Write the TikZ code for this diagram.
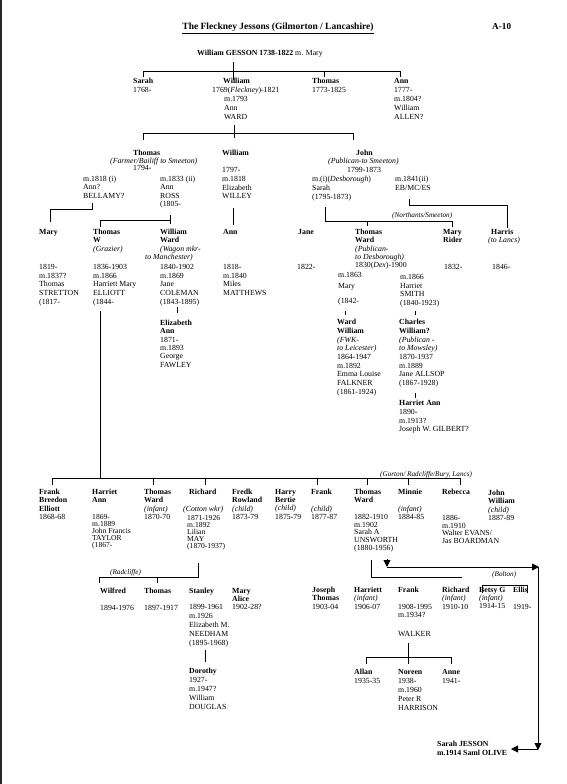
\documentclass[tikz,border=0pt]{standalone}
\usepackage{fontspec}
\setmainfont{Liberation Serif}
\usetikzlibrary{arrows.meta}

\begin{document}
\begin{tikzpicture}[x=1pt, y=-1pt,
  every node/.style={anchor=north west, inner sep=0pt, align=left, font=\fontsize{7.8}{8.7}\selectfont},
  mid/.style={font=\fontsize{7.8}{8.3}\selectfont},
  tight/.style={font=\fontsize{7.6}{7.1}\selectfont},
  loose/.style={font=\fontsize{7.8}{9}\selectfont},
  place/.style={anchor=base west, font=\fontsize{7.2}{8}\selectfont\itshape},
  wire/.style={line width=0.8pt},
  tip/.style={-{Triangle[length=7pt, width=7pt]}}]
  \useasboundingbox (0,0) rectangle (567,784);
  \fill[black!85] (0,0) rectangle (1.6,784);

  % heading
  \node[anchor=base, font=\fontsize{9.5}{10}\selectfont\bfseries] (title) at (278,30) {\underline{The Fleckney Jessons (Gilmorton / Lancashire)}};
  \node[anchor=base west, font=\fontsize{9.2}{10}\selectfont\bfseries] (sheet) at (492,30) {A-10};
  \node[anchor=base west] (gesson) at (197,56) {\textbf{William GESSON 1738-1822} m. Mary};

  % children of William GESSON
  \node[loose] (sarahA) at (133,78) {\textbf{Sarah}\\1768-};
  \node (williamA) at (223,78) {\textbf{William}};
  \node (williamAd) at (212,87) {1769(\textit{Fleckney})-1821};
  \node[loose] (williamAm) at (224,96) {m.1793\\Ann\\WARD};
  \node[loose] (thomasA) at (312,78) {\textbf{Thomas}\\1773-1825};
  \node[loose] (annA) at (394,78) {\textbf{Ann}\\1777-\\m.1804?\\William\\ALLEN?};
  \coordinate (gTop) at (233,62);
  \coordinate (gS) at (143,71);
  \coordinate (gW) at (233,71);
  \coordinate (gT) at (324,71);
  \coordinate (gA) at (400,71);
  \draw[wire] ([yshift=-6pt]gS) -- (gS) -- (gA) -- ([yshift=-6pt]gA);
  \draw[wire] (gTop) -- ([yshift=-9pt]gW);
  \draw[wire] (gT) -- ([yshift=-6pt]gT);

  % children of William and Ann WARD
  \node (thomasB) at (133,150) {\textbf{Thomas}};
  \node (thomasBo) at (110,158) {\textit{(Farmer/Bailiff to Smeeton)}};
  \node (thomasBd) at (133,165) {1794-};
  \node[mid] (bellamy) at (83,176) {m.1818 (i)\\Ann?\\BELLAMY?};
  \node[mid] (ross) at (160,176) {m.1833 (ii)\\Ann\\ROSS\\(1805-};
  \node (williamB) at (222,150) {\textbf{William}\\[8.3pt]1797-\\m.1818\\Elizabeth\\WILLEY};
  \node (johnB) at (356,150) {\textbf{John}};
  \node (johnBo) at (328,158) {\textit{(Publican-to Smeeton)}};
  \node (johnBd) at (347,167) {1799-1873};
  \node (sarahB) at (312,176) {m.(i)(\textit{Desborough})\\Sarah\\(1795-1873)};
  \node (ebmces) at (395,176) {m.1841(ii)\\EB/MC/ES};
  \coordinate (wTop) at (234,125);
  \coordinate (wT) at (143,133);
  \coordinate (wW) at (234,133);
  \coordinate (wJ) at (353,133);
  \draw[wire] ([yshift=-7pt]wT) -- (wT) -- (wJ) -- ([yshift=-7pt]wJ);
  \draw[wire] (wTop) -- ([yshift=-5pt]wW);

  % grandchildren
  \node[mid] (maryC) at (39,229) {\textbf{Mary}};
  \node (maryCd) at (39,264) {1819-\\m.1837?\\Thomas\\STRETTON\\(1817-};
  \node[mid] (thomasC) at (93,229) {\textbf{Thomas}\\\textbf{W}\\\textit{(Grazier)}};
  \node (thomasCd) at (93,264) {1836-1903\\m.1866\\Harriett Mary\\ELLIOTT\\(1844-};
  \node[mid] (williamC) at (160,229) {\textbf{William}\\\textbf{Ward}\\\textit{(Wagon mkr-}};
  \node (williamCo) at (145,254) {\textit{to Manchester)}};
  \node (williamCd) at (160,264) {1840-1902\\m.1869\\Jane\\COLEMAN\\(1843-1895)};
  \node[mid] (elizC) at (160,320) {\textbf{Elizabeth}\\\textbf{Ann}\\1871-\\m.1893\\George\\FAWLEY};
  \node (annC) at (223,229) {\textbf{Ann}};
  \node (annCd) at (223,264) {1818-\\m.1840\\Miles\\MATTHEWS};
  \node (janeC) at (298,229) {\textbf{Jane}};
  \node (janeCd) at (297,264) {1822-};
  \node[mid] (thomasD) at (355,229) {\textbf{Thomas}\\\textbf{Ward}\\\textit{(Publican-}\\\textit{to Desborough)}\\1830(\textit{Dex})-1900};
  \node (maryD) at (338,272) {m.1863\\[2pt]Mary\\[7pt](1842-};
  \node (smithD) at (400,274) {m.1866\\Harriet\\SMITH\\(1840-1923)};
  \node (wardE) at (337,319) {\textbf{Ward}\\\textbf{William}\\\textit{(FWK-}\\\textit{to Leicester)}\\1864-1947\\m.1892\\Emma Louise\\FALKNER\\(1861-1924)};
  \node (charlesE) at (399,319) {\textbf{Charles}\\\textbf{William?}\\\textit{(Publican -}\\\textit{to Mowsley)}\\1870-1937\\m.1889\\Jane ALLSOP\\(1867-1928)};
  \node (harrietF) at (399,400) {\textbf{Harriet Ann}\\1890-\\m.1913?\\Joseph W. GILBERT?};
  \node[mid] (maryR) at (443,229) {\textbf{Mary}\\\textbf{Rider}};
  \node (maryRd) at (444,264) {1832-};
  \node (harris) at (491,229) {\textbf{Harris}};
  \node (harrisO) at (488,237) {\textit{(to Lancs)}};
  \node (harrisd) at (492,264) {1846-};
  \node[place] (northants) at (392,217) {(Northants/Smeeton)};
  \coordinate (bTop) at (92,203);
  \coordinate (bBus) at (92,209);
  \coordinate (bM) at (50,209);
  \draw[wire] (bTop) -- (bBus) -- (bM) -- ([yshift=-13pt]bM);
  \coordinate (rTop) at (170,215);
  \coordinate (rBus) at (170,220);
  \coordinate (rT) at (100,220);
  \draw[wire] (rTop) -- ([yshift=-4pt]rBus);
  \draw[wire] (rBus) -- (rT) -- ([yshift=-7pt]rT);
  \coordinate (yTop) at (233,208);
  \draw[wire] (yTop) -- ([yshift=-17pt]yTop);
  \coordinate (sTop) at (325,207);
  \coordinate (sBus) at (325,221);
  \coordinate (sT) at (367,221);
  \coordinate (sR) at (452,221);
  \draw[wire] (sTop) -- (sBus) -- (sR) -- ([yshift=-6pt]sR);
  \draw[wire] (sT) -- ([yshift=-5pt]sT);
  \coordinate (ebTop) at (409,199);
  \coordinate (ebBus) at (409,205);
  \coordinate (ebR) at (507,205);
  \draw[wire] (ebTop) -- (ebBus) -- (ebR) -- ([yshift=-23pt]ebR);
  \coordinate (cT) at (177,307);
  \draw[wire] (cT) -- ++(0,6);
  \coordinate (mT) at (345,311);
  \draw[wire] (mT) -- ++(0,4);
  \coordinate (hT) at (415,311);
  \draw[wire] (hT) -- ++(0,4);
  \coordinate (aT) at (415,393);
  \draw[wire] (aT) -- ++(0,5);

  % children of Thomas W and Harriett Mary ELLIOTT
  \coordinate (elTop) at (100,311);
  \coordinate (fL) at (52,478);
  \coordinate (fM) at (100,478);
  \coordinate (fR) at (460,478);
  \draw[wire] (elTop) -- (fM);
  \draw[wire] ([yshift=-7pt]fL) -- (fL) -- (fR) -- ([yshift=-7pt]fR);
  \foreach \x in {153,205,317,367,408} \draw[wire] (\x,478) -- ++(0,7);
  \node[place] (gorton) at (380,476) {(Gorton/ Radcliffe/Bury, Lancs)};
  \node[mid] (frankG) at (39,489) {\textbf{Frank}\\\textbf{Breedon}\\\textbf{Elliott}\\1868-68};
  \node[mid] (harrietG) at (92,489) {\textbf{Harriet}\\\textbf{Ann}};
  \node[tight] (harrietGd) at (92,514) {1869-\\m.1889\\John Francis\\TAYLOR\\(1867-};
  \node[mid] (thomasG) at (144,489) {\textbf{Thomas}\\\textbf{Ward}\\\textit{(infant)}\\1870-70};
  \node (richardG) at (189,489) {\textbf{Richard}};
  \node (richardGo) at (183,506) {\textit{(Cotton wkr)}};
  \node[tight] (richardGd) at (187,515) {1871-1926\\m.1892\\Lilian\\MAY\\(1870-1937)};
  \node[mid] (fredkG) at (232,489) {\textbf{Fredk}\\\textbf{Rowland}\\\textit{(child)}\\1873-79};
  \node[mid] (harryG) at (275,489) {\textbf{Harry}\\\textbf{Bertie}\\\textit{(child)}\\1875-79};
  \node[mid] (frankH) at (311,489) {\textbf{Frank}\\[8.3pt]\textit{(child)}\\1877-87};
  \node[mid] (thomasH) at (354,489) {\textbf{Thomas}\\\textbf{Ward}};
  \node[font=\fontsize{7.8}{7.8}\selectfont] (thomasHd) at (354,514) {1882-1910\\m.1902\\Sarah A\\UNSWORTH\\(1880-1956)};
  \node[mid] (minnieH) at (398,489) {\textbf{Minnie}\\[8.3pt]\textit{(infant)}\\1884-85};
  \node (rebeccaH) at (442,489) {\textbf{Rebecca}};
  \node[font=\fontsize{7.8}{7.8}\selectfont] (rebeccaHd) at (442,515) {1886-\\m.1910\\Walter EVANS/\\Jas BOARDMAN};
  \node[mid] (johnH) at (488,490) {\textbf{John}\\\textbf{William}\\\textit{(child)}\\1887-89};

  % children of Richard and Lilian MAY
  \coordinate (rcTop) at (198,563);
  \coordinate (rcBus) at (198,577);
  \coordinate (rcL) at (99,577);
  \coordinate (rcT) at (157,577);
  \draw[wire] (rcTop) -- (rcBus) -- (rcL) -- ++(0,6);
  \draw[wire] (rcT) -- ++(0,6);
  \node[place] (radcliffe) at (110,574.5) {(Radcliffe)};
  \node[mid] (wilfredI) at (100,588) {\textbf{Wilfred}\\[8.3pt]1894-1976};
  \node[mid] (thomasI) at (144,588) {\textbf{Thomas}\\[8.3pt]1897-1917};
  \node[loose] (stanleyI) at (189,588) {\textbf{Stanley}\\[7.3pt]1899-1961\\m.1926\\Elizabeth M.\\NEEDHAM\\(1895-1968)};
  \node[mid] (maryI) at (232,588) {\textbf{Mary}\\\textbf{Alice}\\1902-28?};
  \coordinate (stT) at (205,650);
  \draw[wire] (stT) -- ++(0,12);
  \node[loose] (dorothyJ) at (189,668) {\textbf{Dorothy}\\1927-\\m.1947?\\William\\DOUGLAS};

  % children of Thomas Ward and Sarah A UNSWORTH
  \coordinate (uwTop) at (371,560);
  \coordinate (uwBus) at (371,577);
  \coordinate (uwR) at (462,577);
  \draw[wire] (uwTop) -- (uwBus) -- (uwR);
  \node[place] (bolton) at (492,576) {(Bolton)};
  \coordinate (btL) at (482,585);
  \coordinate (btR) at (527,585);
  \draw[wire] ([yshift=-8pt]btL) -- (btL) -- (btR) -- ([yshift=-8pt]btR);
  \node[mid] (josephI) at (312,587) {\textbf{Joseph}\\\textbf{Thomas}\\1903-04};
  \node[mid] (harriettI) at (354,587) {\textbf{Harriett}\\\textit{(infant)}\\1906-07};
  \node[mid] (frankI) at (398,587) {\textbf{Frank}\\[8.3pt]1908-1995\\m.1934?\\[11pt]WALKER};
  \node[mid] (richardI) at (442,587) {\textbf{Richard}\\\textit{(infant)}\\1910-10};
  \node[mid] (betsyI) at (479,587) {\textbf{Betsy G}\\\textit{(infant)}\\1914-15};
  \node[mid] (ellisI) at (513,587) {\textbf{Ellis}\\[8.3pt]1919-};

  % link to Sarah JESSON
  \coordinate (arA) at (387,559);
  \coordinate (arB) at (387,567);
  \coordinate (arC) at (539,567);
  \coordinate (arD) at (538,567);
  \coordinate (arE) at (538,750);
  \coordinate (arF) at (538,749);
  \coordinate (arG) at (511,749);
  \draw[wire, tip] (arA) -- (arB);
  \draw[wire, tip] (arB) -- (arC);
  \draw[wire, tip] (arD) -- (arE);
  \draw[wire, tip] (arF) -- (arG);
  \node[loose] (sarahJ) at (437,741) {\textbf{Sarah JESSON}\\\textbf{m.1914 Saml OLIVE}};

  % children of Frank and WALKER
  \coordinate (wkTop) at (408,643);
  \coordinate (wkL) at (366,657);
  \coordinate (wkR) at (451,657);
  \draw[wire] (wkTop) -- ++(0,21);
  \draw[wire] ([yshift=-7pt]wkL) -- (wkL) -- (wkR) -- ([yshift=-7pt]wkR);
  \node[loose] (allanK) at (354,669) {\textbf{Allan}\\1935-35};
  \node[loose] (noreenK) at (398,669) {\textbf{Noreen}\\1938-\\m.1960\\Peter R\\HARRISON};
  \node[loose] (anneK) at (442,669) {\textbf{Anne}\\1941-};
\end{tikzpicture}
\end{document}
